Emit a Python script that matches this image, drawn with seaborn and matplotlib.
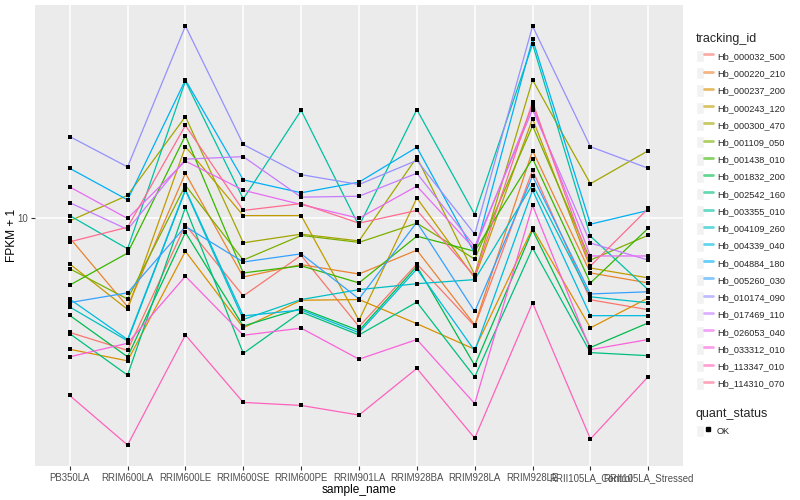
import pandas as pd
import matplotlib
matplotlib.use("Agg")
import matplotlib.pyplot as plt
import seaborn as sns
from matplotlib.lines import Line2D
from matplotlib.patches import Rectangle
from matplotlib.legend_handler import HandlerTuple
from matplotlib.ticker import NullLocator
import numpy as np

# === samples on the x axis ===
samples = ["PB350LA", "RRIM600LA", "RRIM600LE", "RRIM600SE", "RRIM600PE", "RRIM901LA",
           "RRIM928BA", "RRIM928LA", "RRIM928LE", "RRII105LA_Control", "RRII105LA_Stressed"]

# === FPKM + 1 per gene ===
hb_000032_500 = [3.46, 2.93, 9.36, 4.85, 7.06, 3.65, 6.52, 3.67, 15.5, 4.68, 4.27]
hb_000220_210 = [8.30, 4.39, 15.1, 5.78, 6.48, 5.94, 7.41, 3.71, 18.6, 6.00, 5.47]
hb_000237_200 = [2.96, 2.66, 7.33, 3.61, 4.66, 4.69, 3.75, 2.96, 9.08, 3.61, 4.76]
hb_000243_120 = [6.52, 4.28, 19.3, 10.2, 10.2, 3.87, 12.0, 5.73, 25.0, 6.28, 5.73]
hb_000300_470 = [9.71, 12.3, 25.5, 7.93, 8.59, 8.07, 17.5, 5.90, 35.8, 13.7, 18.6]
hb_001109_050 = [6.24, 4.71, 13.5, 6.76, 8.49, 7.96, 9.51, 6.82, 23.4, 6.76, 8.51]
hb_001438_010 = [5.36, 7.21, 21.4, 6.00, 6.41, 5.47, 8.43, 7.33, 17.3, 5.47, 9.08]
hb_001832_200 = [4.05, 2.76, 8.73, 3.67, 4.32, 3.52, 6.38, 2.55, 8.91, 3.01, 3.78]
hb_002542_160 = [3.42, 2.33, 11.0, 2.85, 4.18, 3.38, 4.58, 2.29, 7.55, 2.87, 2.79]
hb_003355_010 = [10.2, 7.50, 35.4, 11.9, 27.0, 9.27, 27.2, 10.3, 49.9, 8.43, 5.13]
hb_004109_260 = [4.38, 3.20, 12.9, 3.90, 4.69, 5.14, 5.43, 5.64, 13.6, 4.81, 4.55]
hb_004339_040 = [4.71, 3.24, 13.0, 4.03, 4.26, 3.45, 6.22, 2.92, 12.9, 4.04, 4.04]
hb_004884_180 = [15.8, 11.8, 35.8, 14.2, 12.6, 13.9, 19.2, 7.21, 52.2, 9.42, 10.7]
hb_005260_030 = [4.56, 4.99, 9.22, 6.64, 7.16, 4.72, 9.59, 4.20, 14.7, 4.94, 5.04]
hb_010174_090 = [21.2, 16.0, 59.0, 19.7, 14.9, 13.6, 17.0, 8.59, 58.9, 19.3, 15.8]
hb_017469_110 = [11.5, 8.97, 17.2, 17.6, 12.1, 12.2, 15.1, 7.67, 27.2, 7.91, 6.76]
hb_026053_040 = [13.3, 9.93, 16.9, 12.9, 11.3, 9.95, 13.4, 7.48, 28.2, 7.02, 7.02]
hb_033312_010 = [2.76, 3.13, 5.82, 3.37, 3.60, 2.70, 3.24, 1.79, 11.2, 2.95, 3.24]
hb_113347_010 = [1.93, 1.22, 3.38, 1.81, 1.76, 1.61, 2.48, 1.30, 4.55, 1.29, 2.30]
hb_114310_070 = [8.00, 9.16, 23.5, 10.7, 11.4, 9.51, 10.7, 5.82, 29.2, 6.40, 10.9]

tracking_ids = ["Hb_000032_500", "Hb_000220_210", "Hb_000237_200", "Hb_000243_120",
                "Hb_000300_470", "Hb_001109_050", "Hb_001438_010", "Hb_001832_200",
                "Hb_002542_160", "Hb_003355_010", "Hb_004109_260", "Hb_004339_040",
                "Hb_004884_180", "Hb_005260_030", "Hb_010174_090", "Hb_017469_110",
                "Hb_026053_040", "Hb_033312_010", "Hb_113347_010", "Hb_114310_070"]
series = [hb_000032_500, hb_000220_210, hb_000237_200, hb_000243_120, hb_000300_470,
          hb_001109_050, hb_001438_010, hb_001832_200, hb_002542_160, hb_003355_010,
          hb_004109_260, hb_004339_040, hb_004884_180, hb_005260_030, hb_010174_090,
          hb_017469_110, hb_026053_040, hb_033312_010, hb_113347_010, hb_114310_070]

# ggplot default hue palette for 20 levels
colors = ["#F8766D", "#EA8331", "#D89000", "#C09B00", "#A3A500", "#7CAE00", "#39B600",
          "#00BB4E", "#00BF7D", "#00C1A3", "#00BFC4", "#00BAE0", "#00B0F6", "#35A2FF",
          "#9590FF", "#C77CFF", "#E76BF3", "#FA62DB", "#FF62BC", "#FF6C91"]

rows = []
for tid, vals in zip(tracking_ids, series):
    for s, v in zip(samples, vals):
        rows.append({"tracking_id": tid, "sample_name": s, "fpkm": v, "quant_status": "OK"})
df = pd.DataFrame(rows)

# === ggplot-like look ===
sns.set_theme(style="darkgrid", rc={
    "axes.facecolor": "#EBEBEB",
    "grid.color": "white",
    "grid.linewidth": 1.1,
    "axes.edgecolor": "#EBEBEB",
})
plt.rcParams["font.family"] = ["Liberation Sans", "DejaVu Sans"]

fig = plt.figure(figsize=(8, 5), dpi=100)
ax = fig.add_axes([35 / 800, 34 / 500, 648 / 800, 461 / 500])

sns.lineplot(data=df, x="sample_name", y="fpkm", hue="tracking_id", hue_order=tracking_ids,
             palette=colors, estimator=None, sort=False, lw=0.9, ax=ax, legend=False)
sns.scatterplot(data=df, x="sample_name", y="fpkm", color="black", marker="s", s=9,
                linewidth=0, ax=ax, legend=False, zorder=3)

ax.set_yscale("log")
lo, hi = np.log10(df["fpkm"].min()), np.log10(df["fpkm"].max())
pad = (hi - lo) * 0.05
ax.set_ylim(10 ** (lo - pad), 10 ** (hi + pad))
ax.set_xlim(-0.6, len(samples) - 0.4)
ax.set_yticks([10])
ax.set_yticklabels(["10"])
ax.yaxis.set_minor_locator(NullLocator())
for sp in ax.spines.values():
    sp.set_visible(False)

ax.tick_params(axis="both", length=3, width=0.8, color="#333333", labelsize=6.9,
               labelcolor="#4D4D4D", pad=2, bottom=True, left=True)
ax.set_xlabel("sample_name", fontsize=8.6, labelpad=1, color="black")
ax.set_ylabel("FPKM + 1", fontsize=8.6, color="black")
ax.yaxis.set_label_coords(-0.027, 0.5)

# === legends ===
def key(artist):
    return (Rectangle((0, 0), 1, 1, facecolor="#F2F2F2", edgecolor="white", lw=1), artist)

handles = [key(Line2D([], [], color=c, lw=2, alpha=0.6)) for c in colors]
fig.legend(handles, tracking_ids, handler_map={tuple: HandlerTuple(ndivide=None, pad=0)},
           loc="upper left", bbox_to_anchor=(696 / 800, 1 - 33 / 500), frameon=False,
           fontsize=6.6, title="tracking_id", title_fontsize=9.0, alignment="left",
           handlelength=1.8, handleheight=1.7, labelspacing=0.53, handletextpad=0.5,
           borderpad=0, borderaxespad=0)

ok_handle = [key(Line2D([], [], ls="none", marker="s", ms=2.5, color="black"))]
fig.legend(ok_handle, ["OK"], handler_map={tuple: HandlerTuple(ndivide=None, pad=0)},
           loc="upper left", bbox_to_anchor=(696 / 800, 1 - 408 / 500), frameon=False,
           fontsize=6.6, title="quant_status", title_fontsize=9.0, alignment="left",
           handlelength=1.8, handleheight=1.7, labelspacing=0.5, handletextpad=0.5,
           borderpad=0, borderaxespad=0)

fig.savefig("out.png", dpi=100)
